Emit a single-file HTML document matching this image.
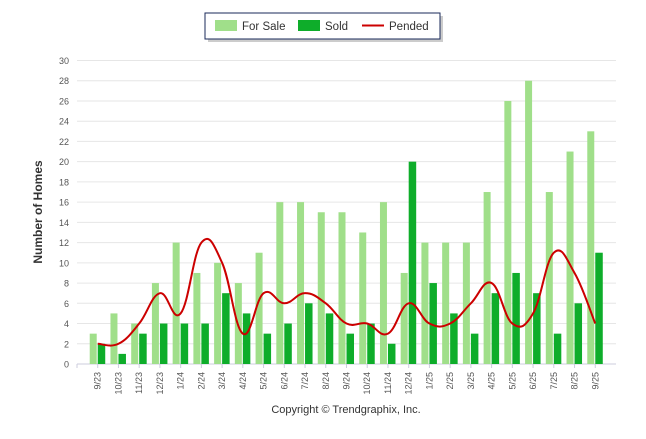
<!DOCTYPE html>
<html><head><meta charset="utf-8"><style>
body{margin:0;background:#fff;font-family:"Liberation Sans",sans-serif;}
svg text{font-family:"Liberation Sans",sans-serif;}
</style></head><body>
<svg id="c" width="646" height="434" xmlns="http://www.w3.org/2000/svg">
<g>
<rect x="208" y="16" width="235" height="26" fill="#999" opacity="0.5"/>
<rect x="205" y="13" width="235" height="26" fill="#fff" stroke="#1a2a5a" stroke-width="1"/>
<g><rect x="215" y="20" width="22" height="11" fill="#a0df8a"/><text x="242" y="30" font-size="11.5" fill="#333">For Sale</text></g>
<g><rect x="298" y="20" width="22" height="11" fill="#0ead2a"/><text x="325" y="30" font-size="11.5" fill="#333">Sold</text></g>
<g><line x1="362" y1="25.5" x2="384" y2="25.5" stroke="#cc0000" stroke-width="2"/><text x="389" y="30" font-size="11.5" fill="#333">Pended</text></g>
</g>
<text transform="translate(42,212) rotate(-90)" text-anchor="middle" font-size="12" font-weight="bold" fill="#333">Number of Homes</text>
<text x="346" y="413" text-anchor="middle" font-size="11" fill="#333">Copyright © Trendgraphix, Inc.</text>
<g id="grid"></g><g id="bars"></g><g id="line"></g><g id="axes"></g>
</svg>
<script>
const categories=["9/23","10/23","11/23","12/23","1/24","2/24","3/24","4/24","5/24","6/24","7/24","8/24","9/24","10/24","11/24","12/24","1/25","2/25","3/25","4/25","5/25","6/25","7/25","8/25","9/25"];
const forSale=[3,5,4,8,12,9,10,8,11,16,16,15,15,13,16,9,12,12,12,17,26,28,17,21,23];
const sold=[2,1,3,4,4,4,7,5,3,4,6,5,3,4,2,20,8,5,3,7,9,7,3,6,11];
const pended=[2,2,4,7,5,12,10,3,7,6,7,6,4,4,3,6,4,4,6,8,4,5,11,9,4];
const yTicks=[0,2,4,6,8,10,12,14,16,18,20,22,24,26,28,30];
const NS="http://www.w3.org/2000/svg";
const L=77,R=616,T=60.5,B=364,step=(R-L)/26;
const y=v=>B-(B-T)*v/30;
const x=i=>L+step*(i+1);
function mk(t,a,p){const e=document.createElementNS(NS,t);for(const k in a)e.setAttribute(k,a[k]);document.getElementById(p).appendChild(e);return e;}
yTicks.forEach(v=>{
 const g=mk("line",{x1:L,x2:R,y1:y(v),y2:y(v),stroke:v===0?"#ccd":"#e6e6e6","stroke-width":1},"grid");
 
 
 const t=mk("text",{x:69,y:y(v)+3.5,"text-anchor":"end","font-size":"9",fill:"#555"},"axes");
 t.textContent=v;
 
 
});
categories.forEach((c,i)=>{
 const cx=x(i);
 const b1=mk("rect",{x:cx-8,y:y(forSale[i]),width:7,height:B-y(forSale[i]),fill:"#a0df8a"},"bars");
 
 
 const b2=mk("rect",{x:cx,y:y(sold[i]),width:7.5,height:B-y(sold[i]),fill:"#0ead2a"},"bars");
 
 
 const tk=mk("line",{x1:cx,x2:cx,y1:B,y2:B+4,stroke:"#ccd"},"axes");
 
 
 const t=mk("text",{transform:`translate(${cx+3},${B+8}) rotate(-90)`,"text-anchor":"end","font-size":"9",fill:"#555"},"axes");
 t.textContent=c;
 
 
});
const tl=mk("line",{x1:L,x2:L,y1:B,y2:B+4,stroke:"#ccd"},"axes");


const pts=pended.map((v,i)=>[x(i),y(v)]);
let d=`M${pts[0][0]},${pts[0][1]}`;
for(let i=0;i<pts.length-1;i++){
 const p0=pts[Math.max(0,i-1)],p1=pts[i],p2=pts[i+1],p3=pts[Math.min(pts.length-1,i+2)];
 const k=0.2;
 d+=` C${p1[0]+(p2[0]-p0[0])*k},${p1[1]+(p2[1]-p0[1])*k},${p2[0]-(p3[0]-p1[0])*k},${p2[1]-(p3[1]-p1[1])*k},${p2[0]},${p2[1]}`;
}
const ln=mk("path",{d:d,fill:"none",stroke:"#cc0000","stroke-width":2},"line");


</script>
</body></html>
